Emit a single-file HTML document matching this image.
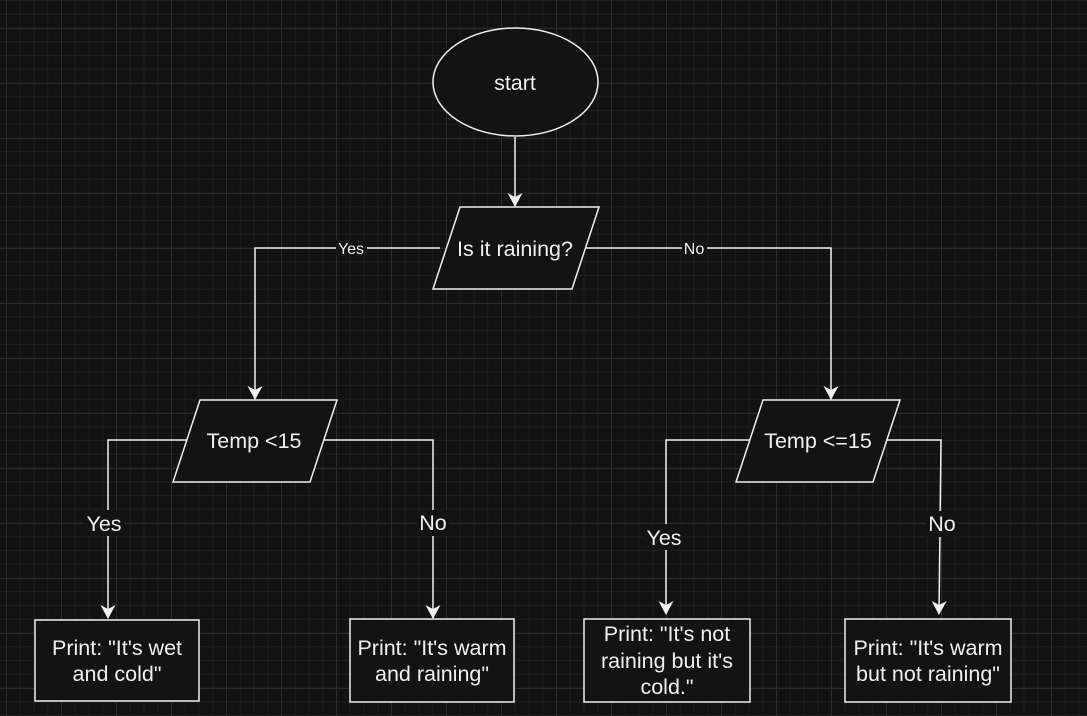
<!DOCTYPE html>
<html><head><style>
html,body{margin:0;padding:0;width:1087px;height:716px;overflow:hidden;background:#121212;}
.bg{position:absolute;left:0;top:0;width:1087px;height:716px;
background-image:
linear-gradient(to right,#2c2c2c 1px,transparent 1px),
linear-gradient(to bottom,#2c2c2c 1px,transparent 1px),
linear-gradient(to right,#1e1e1e 1px,transparent 1px),
linear-gradient(to bottom,#1e1e1e 1px,transparent 1px);
background-size:55px 55px,55px 55px,13.75px 13.75px,13.75px 13.75px;
background-position:6px 0,0 28px,6px 0,0 0;}
svg{position:absolute;left:0;top:0;}
text{font-family:"Liberation Sans",sans-serif;fill:#f0f0f0;text-anchor:middle;}
</style></head><body>
<div class="bg"></div>
<svg width="1087" height="716" viewBox="0 0 1087 716">
<defs>
<marker id="a" markerWidth="16" markerHeight="16" refX="13" refY="7.5" orient="auto" markerUnits="userSpaceOnUse">
<path d="M0,0 L14,7.5 L0,15 L4,7.5 Z" fill="#f0f0f0"/>
</marker>
</defs>
<g stroke="#f0f0f0" stroke-width="1.5" fill="none">
<path d="M515,137 L515,206" marker-end="url(#a)"/>
<path d="M440,248 L255,248 L255,399" marker-end="url(#a)"/>
<path d="M586,248 L831,248 L831,399" marker-end="url(#a)"/>
<path d="M187,440 L108,440 L108,618" marker-end="url(#a)"/>
<path d="M323,440 L433,440 L433,618" marker-end="url(#a)"/>
<path d="M750,440 L666,440 L666,614" marker-end="url(#a)"/>
<path d="M887,440 L941,440 L939,614" marker-end="url(#a)"/>
</g>
<g stroke="#f0f0f0" stroke-width="1.5" fill="#131313">
<ellipse cx="515.5" cy="82" rx="82.5" ry="54"/>
<polygon points="460,207 599,207 572,289 433,289"/>
<polygon points="200,400 337,400 310,482 173,482"/>
<polygon points="763,400 900,400 873,482 736,482"/>
<rect x="35" y="620" width="164" height="81"/>
<rect x="350" y="619" width="164" height="83"/>
<rect x="584" y="619" width="166" height="83"/>
<rect x="845" y="619" width="166" height="83"/>
</g>
<g font-size="21.5">
<text x="515" y="90">start</text>
<text x="515" y="256">Is it raining?</text>
<text x="254" y="448">Temp &lt;15</text>
<text x="818" y="448">Temp &lt;=15</text>
<text x="117" y="655">Print: "It's wet</text>
<text x="117" y="681">and cold"</text>
<text x="432" y="655">Print: "It's warm</text>
<text x="432" y="681">and raining"</text>
<text x="667" y="641">Print: "It's not</text>
<text x="667" y="668">raining but it's</text>
<text x="667" y="694">cold."</text>
<text x="928" y="655">Print: "It's warm</text>
<text x="928" y="681">but not raining"</text>
</g>
<g font-size="16">
<rect x="336" y="240" width="31" height="16" fill="#131313"/>
<text x="351" y="254">Yes</text>
<rect x="682" y="240" width="25" height="16" fill="#131313"/>
<text x="694" y="254">No</text>
</g>
<g font-size="21.5">
<rect x="83" y="510" width="42" height="26" fill="#131313"/>
<text x="104" y="531">Yes</text>
<rect x="417" y="510" width="32" height="26" fill="#131313"/>
<text x="433" y="530">No</text>
<rect x="643" y="524" width="42" height="26" fill="#131313"/>
<text x="664" y="545">Yes</text>
<rect x="926" y="511" width="32" height="26" fill="#131313"/>
<text x="942" y="531">No</text>
</g>
</svg>
</body></html>
